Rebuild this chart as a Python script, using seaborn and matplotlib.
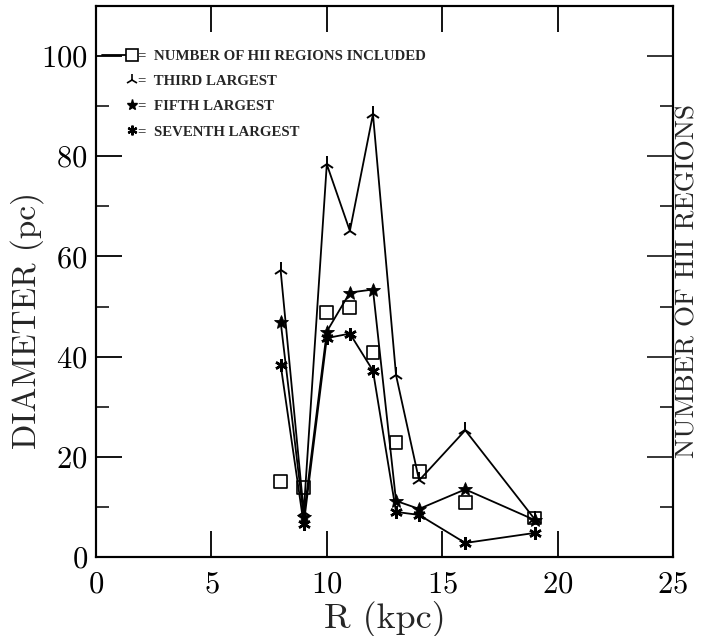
import numpy as np
import pandas as pd
import matplotlib
matplotlib.use("Agg")
import matplotlib.pyplot as plt
import seaborn as sns
from matplotlib.lines import Line2D
from matplotlib.legend_handler import HandlerLine2D

# ---- data ----
R = [8, 9, 10, 11, 12, 13, 14, 16, 19]
third_largest = [57.2, 9.0, 78.4, 65.1, 88.4, 36.3, 15.3, 25.3, 7.6]
fifth_largest = [47.0, 8.0, 45.0, 52.8, 53.4, 11.2, 9.6, 13.5, 7.4]
seventh_largest = [38.4, 6.5, 43.7, 44.6, 37.2, 9.0, 8.4, 2.8, 4.8]
n_regions = [15.1, 13.9, 48.8, 49.8, 40.8, 22.9, 17.0, 10.9, 7.8]

x_ticks = [0, 5, 10, 15, 20, 25]
y_ticks = [0, 20, 40, 60, 80, 100]
y_minor = [10, 30, 50, 70, 90]

legend_labels = ["=  NUMBER OF HII REGIONS INCLUDED", "=  THIRD LARGEST",
                 "=  FIFTH LARGEST", "=  SEVENTH LARGEST"]

sns.set_style("ticks")
plt.rcParams["font.family"] = ["cmr10", "DejaVu Serif"]
plt.rcParams["mathtext.fontset"] = "cm"
plt.rcParams["axes.formatter.use_mathtext"] = True

df = pd.DataFrame({"R": R, "third": third_largest, "fifth": fifth_largest,
                   "seventh": seventh_largest, "n": n_regions})

fig = plt.figure(figsize=(7.02, 6.36), dpi=100)
ax = fig.add_axes([96 / 702, (636 - 557) / 636, (673 - 96) / 702, (557 - 6) / 636])
ax2 = ax.twinx()

lw = 1.3
sns.lineplot(data=df, x="R", y="third", ax=ax, color="black", lw=lw,
             marker="2", markersize=11, markeredgewidth=1.4,
             markeredgecolor="black", errorbar=None)
sns.lineplot(data=df, x="R", y="fifth", ax=ax, color="black", lw=lw,
             marker="*", markersize=10, markeredgewidth=0.6,
             markeredgecolor="black", markerfacecolor="black", errorbar=None)
sns.lineplot(data=df, x="R", y="seventh", ax=ax, color="black", lw=lw,
             marker=(6, 2, 0), markersize=9, markeredgewidth=1.8,
             markeredgecolor="black", errorbar=None)
sns.scatterplot(data=df, x="R", y="n", ax=ax2, marker="s", s=85,
                facecolor="none", edgecolor="black", linewidth=1.2, zorder=5)

for a in (ax, ax2):
    a.set_xlim(0, 25)
    a.set_ylim(0, 110)
    a.set_yticks(y_ticks)
    a.set_yticks(y_minor, minor=True)
    for s in a.spines.values():
        s.set_linewidth(1.5)
        s.set_color("black")

ax.set_xticks(x_ticks)
ax.tick_params(axis="both", which="major", direction="in", length=19, width=1.3,
               labelsize=22, colors="black")
ax.tick_params(axis="x", top=True, pad=10)
ax.tick_params(axis="y", left=True, right=False, pad=6)
ax.tick_params(axis="y", which="minor", direction="in", length=9.5, width=1.3, left=True)

ax2.tick_params(axis="y", which="major", direction="in", length=19, width=1.3,
                right=True, labelright=False)
ax2.tick_params(axis="y", which="minor", direction="in", length=9.5, width=1.3, right=True)

ax.set_xlabel("R (kpc)", fontsize=26, labelpad=2)
ax.set_ylabel("DIAMETER (pc)", fontsize=24)
ax.yaxis.set_label_coords(-0.09, 0.43)
ax2.set_ylabel("NUMBER OF HII REGIONS", fontsize=19.5)
ax2.yaxis.set_label_coords(1.004, 0.5)


class RightMarkerHandler(HandlerLine2D):
    def create_artists(self, legend, orig_handle, xdescent, ydescent, width,
                       height, fontsize, trans):
        arts = super().create_artists(legend, orig_handle, xdescent, ydescent,
                                      width, height, fontsize, trans)
        xm = -xdescent + width * 0.82
        for art in arts:
            xd = np.asarray(art.get_xdata(), dtype=float)
            yd = np.asarray(art.get_ydata(), dtype=float)
            if art.get_marker() not in (None, "None", "", " ") and art.get_linestyle() in ("None", "", " "):
                art.set_data([xm], [yd[0]])
            else:
                art.set_data([xd[0], xm], [yd[0], yd[0]])
        return arts


handles = [
    Line2D([], [], color="black", lw=lw, marker="s", markersize=9,
           markerfacecolor="white", markeredgewidth=1.2),
    Line2D([], [], color="black", lw=0, marker="2", markersize=9, markeredgewidth=1.2),
    Line2D([], [], color="black", lw=0, marker="*", markersize=8),
    Line2D([], [], color="black", lw=0, marker=(6, 2, 0), markersize=7, markeredgewidth=1.6),
]
leg = ax.legend(handles, legend_labels, loc="upper left",
                bbox_to_anchor=(0.0, 0.932), frameon=False,
                prop={"family": "Liberation Serif", "weight": "bold", "size": 10.7},
                handlelength=2.45, handletextpad=0.0, labelspacing=0.8,
                borderaxespad=0.0,
                handler_map={Line2D: RightMarkerHandler()})

fig.savefig("out.png", dpi=100)
